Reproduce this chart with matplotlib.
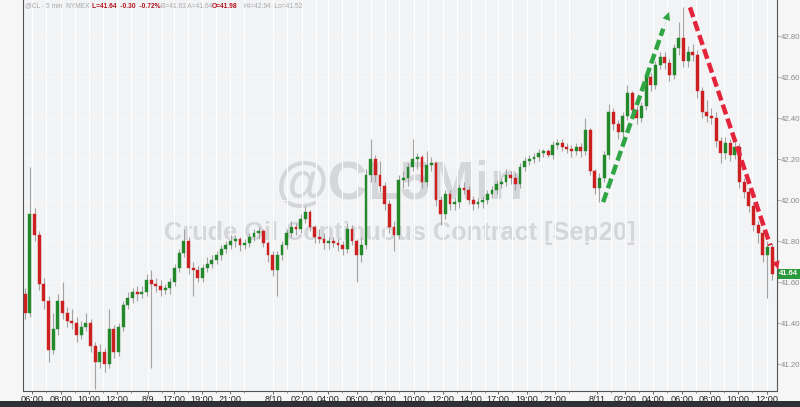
import matplotlib
matplotlib.use('Agg')
import matplotlib.pyplot as plt
import matplotlib.ticker as ticker
from matplotlib.patches import Rectangle

plt.rcParams['font.family'] = ['Liberation Sans', 'DejaVu Sans']

# 20-minute candles (CL, Sep20)
closes = [41.45, 41.93, 41.83, 41.59, 41.51, 41.27, 41.37, 41.51, 41.45, 41.41,
          41.40, 41.34, 41.38, 41.40, 41.29, 41.21, 41.26, 41.20, 41.37, 41.26,
          41.38, 41.49, 41.52, 41.55, 41.54, 41.55, 41.61, 41.59, 41.58, 41.56,
          41.57, 41.60, 41.67, 41.74, 41.80, 41.67, 41.66, 41.62, 41.67, 41.69,
          41.71, 41.73, 41.76, 41.78, 41.80, 41.81, 41.78, 41.79, 41.82, 41.84,
          41.85, 41.79, 41.73, 41.66, 41.73, 41.78, 41.84, 41.87, 41.86, 41.91,
          41.94, 41.87, 41.82, 41.81, 41.79, 41.80, 41.79, 41.78, 41.76, 41.86,
          41.80, 41.73, 41.78, 42.12, 42.20, 42.12, 42.07, 41.98, 41.87, 41.83,
          42.10, 42.11, 42.16, 42.20, 42.21, 42.09, 42.17, 42.18, 42.00, 41.93,
          42.03, 41.98, 41.99, 42.06, 42.05, 42.00, 41.98, 41.99, 42.00, 42.03,
          42.05, 42.08, 42.09, 42.12, 42.11, 42.08, 42.16, 42.19, 42.20, 42.21,
          42.23, 42.24, 42.22, 42.27, 42.28, 42.26, 42.25, 42.24, 42.26, 42.24,
          42.34, 42.14, 42.06, 42.11, 42.22, 42.43, 42.37, 42.33, 42.41, 42.52,
          42.44, 42.40, 42.46, 42.60, 42.56, 42.66, 42.70, 42.67, 42.61, 42.74,
          42.79, 42.68, 42.72, 42.71, 42.53, 42.43, 42.41, 42.40, 42.29, 42.23,
          42.28, 42.22, 42.26, 42.09, 42.04, 41.97, 41.88, 41.84, 41.73, 41.77,
          41.64]
highs = [41.57, 42.16, 41.96, 41.85, 41.62, 41.53, 41.45, 41.54, 41.60, 41.48,
         41.47, 41.43, 41.41, 41.45, 41.42, 41.31, 41.30, 41.28, 41.47, 41.39,
         41.40, 41.51, 41.55, 41.57, 41.58, 41.58, 41.64, 41.66, 41.62, 41.61,
         41.59, 41.62, 41.69, 41.76, 41.86, 41.82, 41.70, 41.68, 41.69, 41.72,
         41.73, 41.75, 41.78, 41.80, 41.83, 41.83, 41.82, 41.81, 41.84, 41.86,
         41.87, 41.86, 41.80, 41.75, 41.75, 41.80, 41.86, 41.90, 41.89, 41.93,
         41.97, 41.95, 41.88, 41.86, 41.84, 41.82, 41.82, 41.81, 41.80, 41.89,
         41.88, 41.81, 41.82, 42.15, 42.30, 42.22, 42.19, 42.09, 42.00, 41.90,
         42.12, 42.14, 42.18, 42.30, 42.23, 42.22, 42.24, 42.21, 42.19, 42.02,
         42.05, 42.05, 42.01, 42.08, 42.09, 42.07, 42.02, 42.01, 42.02, 42.05,
         42.07, 42.10, 42.11, 42.15, 42.14, 42.13, 42.18, 42.21, 42.22, 42.23,
         42.25, 42.25, 42.25, 42.29, 42.30, 42.30, 42.28, 42.27, 42.28, 42.28,
         42.40, 42.35, 42.15, 42.13, 42.24, 42.47, 42.45, 42.39, 42.43, 42.56,
         42.53, 42.46, 42.48, 42.62, 42.62, 42.68, 42.72, 42.72, 42.69, 42.76,
         42.87, 42.94, 42.75, 42.76, 42.73, 42.55, 42.49, 42.45, 42.43, 42.31,
         42.31, 42.30, 42.29, 42.28, 42.11, 42.06, 41.99, 41.90, 41.86, 41.80,
         41.79]
lows = [41.42, 41.43, 41.80, 41.56, 41.47, 41.21, 41.25, 41.34, 41.42, 41.38,
        41.37, 41.31, 41.32, 41.36, 41.26, 41.08, 41.18, 41.16, 41.18, 41.23,
        41.24, 41.36, 41.47, 41.50, 41.51, 41.52, 41.53, 41.18, 41.55, 41.53,
        41.54, 41.54, 41.58, 41.65, 41.72, 41.64, 41.53, 41.60, 41.60, 41.65,
        41.67, 41.69, 41.71, 41.74, 41.76, 41.77, 41.75, 41.76, 41.77, 41.80,
        41.81, 41.77, 41.70, 41.63, 41.53, 41.71, 41.76, 41.82, 41.83, 41.84,
        41.89, 41.85, 41.79, 41.79, 41.76, 41.76, 41.77, 41.75, 41.73, 41.74,
        41.78, 41.60, 41.70, 41.76, 42.09, 42.09, 42.04, 41.95, 41.84, 41.75,
        41.81, 42.06, 42.07, 42.14, 42.15, 42.06, 42.07, 42.14, 41.97, 41.88,
        41.91, 41.95, 41.95, 41.96, 42.03, 41.98, 41.95, 41.96, 41.96, 41.98,
        42.01, 42.03, 42.06, 42.07, 42.08, 42.05, 42.06, 42.14, 42.17, 42.18,
        42.19, 42.21, 42.21, 42.20, 42.25, 42.24, 42.23, 42.21, 42.22, 42.21,
        42.22, 42.12, 42.03, 41.99, 42.09, 42.20, 42.34, 42.30, 42.31, 42.39,
        42.41, 42.37, 42.38, 42.44, 42.53, 42.54, 42.64, 42.64, 42.58, 42.59,
        42.71, 42.65, 42.65, 42.68, 42.50, 42.40, 42.38, 42.37, 42.26, 42.18,
        42.20, 42.19, 42.20, 42.06, 42.01, 41.94, 41.85, 41.79, 41.70, 41.52,
        41.61]
first_open = 41.54
opens = [first_open] + closes[:-1]

tick_pos = [1.5, 7.7, 13.7, 19.7, 26.3, 31.9, 37.9, 43.9, 53.1, 59.3, 64.9, 71.1, 77.1,
            83.3, 89.5, 95.5, 101.3, 107.5, 113.5, 122.5, 128.5, 134.5, 140.7, 146.7,
            152.7, 158.9]
tick_lab = ['06:00', '08:00', '10:00', '12:00', '8/9', '17:00', '19:00', '21:00', '8/10',
            '02:00', '04:00', '06:00', '08:00', '10:00', '12:00', '14:00', '17:00', '19:00',
            '21:00', '8/11', '02:00', '04:00', '06:00', '08:00', '10:00', '12:00']
y_ticks = [41.20, 41.40, 41.60, 41.80, 42.00, 42.20, 42.40, 42.60, 42.80]
last_price = 41.64

# trend arrows (start, tip) in (bar index, price)
up_arrow = ((123.8, 41.99), (138.1, 42.93))
down_arrow = ((142.4, 42.94), (161.5, 41.65))

GREEN = '#23882a'
RED = '#cc1f1f'
BG = '#f2f3f5'

fig = plt.figure(figsize=(8, 4.07), dpi=100, facecolor='#f6f6f7')
ax = fig.add_axes([0.029, 0.039, 0.942, 0.961])
ax.set_facecolor(BG)

# watermark
ax.text(0.5, 0.527, '@CL5Min', transform=ax.transAxes, ha='center', va='center',
        fontsize=39, fontweight='bold', color='#d5d6d9', zorder=0)
ax.text(0.5, 0.405, 'Crude Oil Continuous Contract [Sep20]', transform=ax.transAxes,
        ha='center', va='center', fontsize=18.3, fontweight='bold', color='#d5d6d9', zorder=0)

# candles
idx = list(range(len(closes)))
ax.vlines(idx, lows, highs, color='#a3a3a3', lw=0.8, zorder=2)
for i in idx:
    o, c = opens[i], closes[i]
    col = GREEN if c >= o else RED
    h = max(abs(c - o), 0.004)
    ax.bar(i, h, bottom=min(o, c), width=0.62, color=col, edgecolor=col, lw=0.3, zorder=3)

# dashed trend arrows
for (s, t), col in [(up_arrow, '#2fa544'), (down_arrow, '#e3243b')]:
    fx = s[0] + (t[0] - s[0]) * 0.9
    fy = s[1] + (t[1] - s[1]) * 0.9
    ax.plot([s[0], fx], [s[1], fy], color=col, lw=3.2, dashes=(2.3, 1.0),
            solid_capstyle='butt', zorder=5, clip_on=False)
    ax.annotate('', xy=t, xytext=(fx, fy),
                arrowprops=dict(arrowstyle='-|>', color=col, lw=0.1, mutation_scale=14),
                zorder=5, annotation_clip=False)

ax.set_xlim(-0.43, 161.0)
ax.set_ylim(41.068, 42.976)

ax.set_xticks(tick_pos)
ax.set_xticklabels(tick_lab)
ax.xaxis.set_minor_locator(ticker.FixedLocator([p + 3 for p in tick_pos[:-1]]))
ax.tick_params(axis='x', which='major', labelsize=6.6, colors='#555555', labelcolor='#222222',
               length=2, width=0.6, pad=1)
ax.tick_params(axis='x', which='minor', length=1.5, width=0.5, colors='#777777')

ax.yaxis.tick_right()
ax.set_yticks(y_ticks)
ax.yaxis.set_major_formatter(ticker.FormatStrFormatter('%.2f'))
ax.tick_params(axis='y', labelsize=5.6, colors='#8a8a8a', length=2, width=0.5, pad=1)

ax.grid(True, axis='x', which='both', color='white', lw=0.8, zorder=1)
ax.grid(True, axis='y', color='#f8f8f9', lw=0.6)
ax.set_axisbelow(True)

for side in ['left', 'right', 'bottom']:
    ax.spines[side].set_color('#555555')
    ax.spines[side].set_linewidth(0.8)
ax.spines['top'].set_visible(False)

# last price tag
ax.text(1.003, last_price, '%.2f' % last_price, transform=ax.get_yaxis_transform(),
        ha='left', va='center', fontsize=5.4, fontweight='bold', color='white', zorder=6,
        bbox=dict(boxstyle='square,pad=0.2', fc='#2b9a3c', ec='none'))

# header quote line
hdr = [(0.031, '@CL - 5 min  NYMEX', '#a9a9a9', 'normal'),
       (0.115, 'L=41.64  -0.30  -0.72%', '#b3121b', 'bold'),
       (0.201, 'B=41.63 A=41.64', '#a9a9a9', 'normal'),
       (0.265, 'O=41.98', '#b3121b', 'bold'),
       (0.305, 'Hi=42.94  Lo=41.52', '#a9a9a9', 'normal')]
for x, s, col, w in hdr:
    fig.text(x, 0.985, s, ha='left', va='center', fontsize=4.8, color=col, fontweight=w)

# dark strip at the bottom
fig.patches.append(Rectangle((0, 0), 1, 6 / 407, transform=fig.transFigure,
                             fc='#2e3138', ec='none', zorder=-1))

fig.savefig('out.png', dpi=100, facecolor=fig.get_facecolor())
